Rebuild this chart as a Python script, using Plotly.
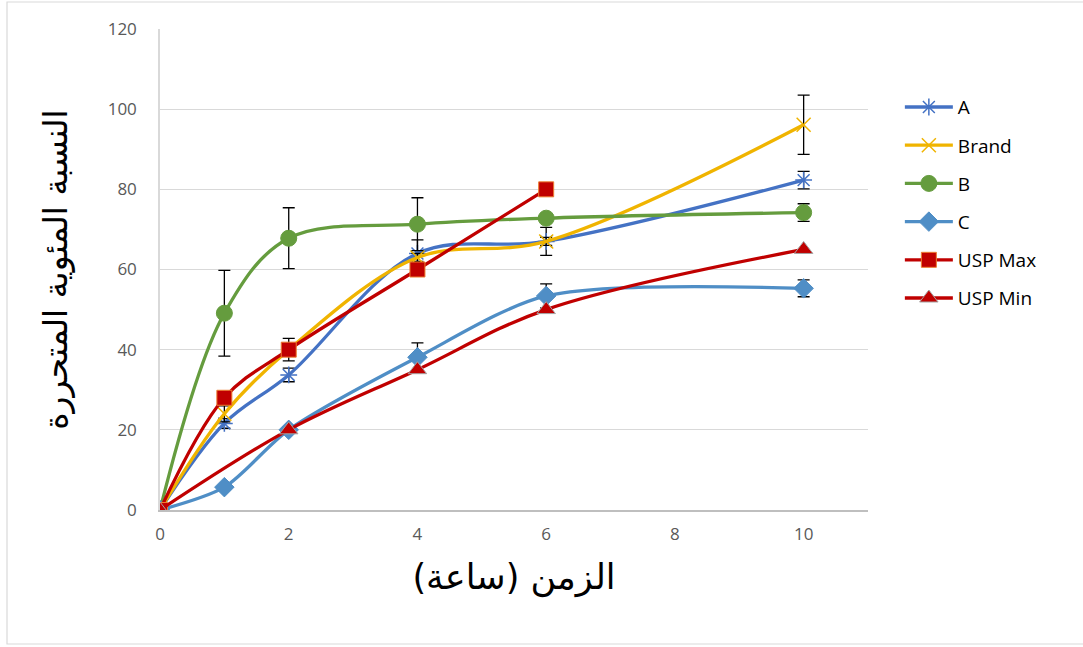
import plotly.graph_objects as go

# Release time (hours)
hours = [0, 1, 2, 4, 6, 10]

# Percent released per formulation, with standard deviations
a_vals = [0, 21.6, 33.7, 64.0, 67.0, 82.3]
a_err = [0, 1.2, 1.7, 3.4, 3.5, 2.2]

brand_vals = [0, 24.0, 40.0, 63.0, 67.0, 96.1]
brand_err = [0, 2.0, 2.8, 1.0, 1.0, 7.4]

b_vals = [0, 49.1, 67.8, 71.3, 72.8, 74.2]
b_err = [0, 10.7, 7.6, 6.6, 1.0, 2.2]

c_vals = [0, 5.7, 20.0, 38.1, 53.4, 55.3]
c_err = [0, 0.5, 0.8, 3.6, 3.0, 2.1]

# USP dissolution limits
usp_max_hours = [0, 1, 2, 4, 6]
usp_max_vals = [0, 28, 40, 60, 80]
usp_min_hours = [0, 2, 4, 6, 10]
usp_min_vals = [0, 20, 35, 50, 65]

y_ticks = [0, 20, 40, 60, 80, 100, 120]
x_ticks = [0, 2, 4, 6, 8, 10]

TICK_FONT = dict(family="Open Sans", size=17, color="#595959")
GRID = "#D9D9D9"


def err(arr):
    return dict(type="data", array=arr, visible=True, color="black",
                thickness=1.3, width=6)


fig = go.Figure()

fig.add_trace(go.Scatter(
    x=hours, y=a_vals, name="A", mode="lines+markers",
    line=dict(color="#4472C4", width=3.3, shape="spline", smoothing=1),
    marker=dict(symbol="asterisk-open", size=14, color="#4472C4",
                line=dict(color="#4472C4", width=1.5)),
    error_y=err(a_err), legendgroup="A"))

fig.add_trace(go.Scatter(
    x=hours, y=brand_vals, name="Brand", mode="lines+markers",
    line=dict(color="#F0B400", width=3.3, shape="spline", smoothing=1),
    marker=dict(symbol="x-thin-open", size=14, color="#F0B400",
                line=dict(color="#F0B400", width=1.5)),
    error_y=err(brand_err), legendgroup="Brand"))

fig.add_trace(go.Scatter(
    x=hours, y=b_vals, name="B", mode="lines+markers",
    line=dict(color="#659C3E", width=3.3, shape="spline", smoothing=1),
    marker=dict(symbol="circle", size=16, color="#659C3E",
                line=dict(color="#659C3E", width=1)),
    error_y=err(b_err), legendgroup="B"))

fig.add_trace(go.Scatter(
    x=hours, y=c_vals, name="C", mode="lines+markers",
    line=dict(color="#4F8EC6", width=3.3, shape="spline", smoothing=0.8),
    marker=dict(symbol="diamond", size=15, color="#4F8EC6",
                line=dict(color="#4F8EC6", width=1)),
    error_y=err(c_err), legendgroup="C"))

fig.add_trace(go.Scatter(
    x=usp_max_hours, y=usp_max_vals, name="USP Max", mode="lines+markers",
    line=dict(color="#C00000", width=3.3, shape="spline", smoothing=1),
    marker=dict(symbol="square", size=15, color="#C00000",
                line=dict(color="#ED7D31", width=1)),
    legendgroup="USPMax"))

fig.add_trace(go.Scatter(
    x=usp_min_hours, y=usp_min_vals, name="USP Min", mode="lines+markers",
    line=dict(color="#C00000", width=3.3, shape="spline", smoothing=1),
    marker=dict(symbol="triangle-up", size=16, color="#C00000",
                line=dict(color="#A5A5A5", width=1)),
    legendgroup="USPMin"))

fig.update_layout(
    width=1083, height=647,
    margin=dict(l=160, r=215, t=29, b=137),
    paper_bgcolor="white", plot_bgcolor="white",
    showlegend=True,
    legend=dict(
        x=1.045, y=0.877, xanchor="left", yanchor="top",
        font=dict(family="Open Sans", size=19, color="black"),
        tracegroupgap=10.5, itemwidth=48,
        bgcolor="rgba(0,0,0,0)"),
    xaxis=dict(
        range=[0, 11], tickvals=x_ticks, ticktext=[str(v) for v in x_ticks],
        showgrid=False, zeroline=False, showline=True,
        linecolor="#BFBFBF", linewidth=1.5, ticks="",
        tickfont=TICK_FONT, ticklabelstandoff=8,
        title=dict(text="الزمن (ساعة)", standoff=20,
                   font=dict(family="DejaVu Sans", size=35, color="black"))),
    yaxis=dict(
        range=[0, 120], tickvals=y_ticks, ticktext=[str(v) for v in y_ticks],
        showgrid=True, gridcolor=GRID, gridwidth=1.2, zeroline=False,
        showline=True, linecolor=GRID, linewidth=1.5, ticks="",
        tickfont=TICK_FONT, ticklabelstandoff=18,
        title=dict(text="النسبة المئوية المتحررة", standoff=30,
                   font=dict(family="DejaVu Sans", size=33, color="black"))),
    shapes=[dict(type="rect", xref="paper", yref="paper",
                 x0=(7 - 160) / 708, x1=(1095 - 160) / 708,
                 y0=(510 - 644) / 481, y1=(510 - 2) / 481,
                 line=dict(color="#D9D9D9", width=1.2), layer="below")],
)

fig.write_html("out.html")
